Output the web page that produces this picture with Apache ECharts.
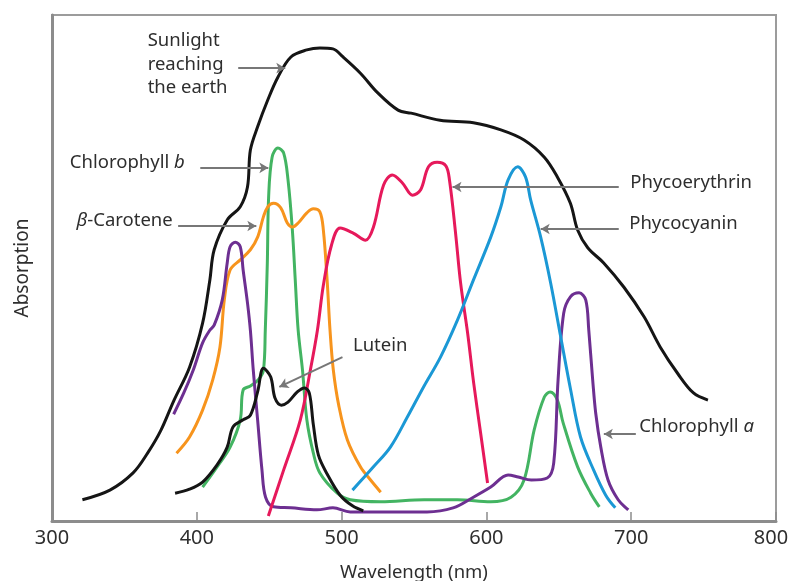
<!DOCTYPE html>
<html>
<head>
<meta charset="utf-8">
<script src="https://cdn.jsdelivr.net/npm/echarts@6/dist/echarts.min.js"></script>
<style>
  html, body { margin: 0; padding: 0; background: #fff; }
  #main { width: 790px; height: 581px; }
</style>
</head>
<body>
<div id="main"></div>
<script>
// wavelength (nm), relative absorption (0-100)
var sunlight = [[321,4.2],[340,6.1],[356,9.5],[366,13.4],[375,17.8],[384,23.7],[395,30.4],[404,39.1],[409,47.6],[412,53.6],[421,59.5],[430,62.1],[435,66.0],[437,73.3],[442,77.9],[449,83.2],[456,87.7],[465,91.7],[476,93.1],[485,93.5],[494,93.3],[501,91.7],[513,88.5],[525,84.6],[539,81.2],[548,80.6],[568,79.2],[591,78.7],[610,77.3],[626,75.3],[640,71.9],[649,68.0],[658,62.8],[663,57.5],[670,54.0],[681,51.0],[695,46.2],[709,40.3],[720,34.4],[732,29.2],[743,25.3],[753,23.9]];
var chlB = [[404,6.7],[414,10.7],[423,14.6],[430,20.0],[432,25.9],[437,26.7],[442.5,27.9],[446,29.8],[447.3,37.7],[448.7,51.0],[449.6,64.0],[452,71.9],[456,73.7],[460,72.7],[463,67.4],[466,57.5],[468,47.6],[470,37.7],[473,29.8],[476,20.0],[480.5,13.4],[485,9.5],[497,5.5],[506,4.2],[527,3.8],[557,4.2],[580,4.2],[603,3.8],[617,4.7],[626,8.1],[633,18.0],[640,24.5],[644,25.5],[649,23.9],[653,19.4],[663,10.7],[672,5.5],[678,2.8]];
var carotene = [[386,13.4],[395,16.6],[404,21.9],[411,27.9],[416,34.4],[419,43.7],[423,49.6],[430,51.6],[437,53.6],[442,56.1],[446,60.1],[449,62.1],[453,62.8],[458,61.9],[462.5,58.9],[466,58.1],[470,58.9],[476,60.9],[480.5,61.7],[485,61.1],[487.4,57.5],[490,47.6],[492,37.7],[494.3,29.8],[498,22.9],[504,16.0],[513,10.7],[520,8.1],[527,5.7]];
var chlA = [[384,21.1],[391,25.3],[397.5,29.8],[404,35.2],[409,37.7],[412,38.7],[417.6,43.7],[421,51.0],[423,54.2],[426.6,55.1],[430,54.2],[432,49.6],[435,43.1],[437,37.7],[439,29.8],[442,20.0],[445,10.1],[447.5,4.7],[453,2.8],[465,2.6],[483,2.2],[494,2.6],[506,1.8],[536,1.8],[559,1.8],[577,2.6],[591,4.7],[603,6.7],[615,9.1],[622,8.7],[631,8.1],[642,8.5],[646.5,11.5],[649.5,27.9],[653.4,41.1],[658,44.3],[664,45.1],[668.6,43.7],[670.7,37.7],[673.4,27.9],[675.5,21.3],[679,14.6],[684,8.1],[691,4.2],[698,2.2]];
var phycoerythrin = [[449.4,1.0],[460,10.1],[471.5,20.0],[478.4,29.8],[483.3,37.7],[487.4,46.6],[493,54.5],[499,57.9],[508,56.9],[516.5,55.5],[522,58.1],[529,66.4],[535,68.4],[542,66.8],[549,64.4],[554.5,65.4],[560,70.0],[566,70.9],[572,70.2],[574.5,67.4],[578.7,56.9],[582.2,47.0],[587,37.2],[591.2,27.3],[596,17.4],[600.8,7.5]];
var phycocyanin = [[507.5,6.1],[522,10.7],[533.7,14.6],[545.5,20.6],[556.6,26.5],[568.3,32.4],[580,39.7],[591,47.6],[603,56.1],[610,62.1],[615,67.4],[621.6,70.0],[627,68.0],[630.6,63.4],[637.5,56.1],[644.4,47.0],[651.3,36.4],[658.2,25.9],[665,16.6],[674,10.1],[682.4,5.1],[689,2.6]];
var lutein = [[385,5.5],[395,6.3],[404,7.7],[414,11.1],[421,14.6],[425,18.6],[432,20.0],[437,20.9],[442,25.5],[446,30.2],[451,28.5],[454,24.3],[458.4,22.9],[463,23.5],[469.4,25.5],[474.3,26.3],[477.7,25.3],[480.5,19.0],[484,13.0],[490,9.3],[499,5.1],[507.5,3.0],[515,2.0]];

var xTicks = { min: 300, max: 800, interval: 100 };

// arrows: [from, to] in data coordinates
var arrows = [
  [[428.6,89.5],[461.1,89.5]],
  [[402.4,69.8],[449.4,69.8]],
  [[387.1,58.3],[441.1,58.3]],
  [[500.6,32.4],[457.0,26.5]],
  [[691.4,66.0],[576.6,66.0]],
  [[691.4,57.7],[637.5,57.7]],
  [[703.2,17.2],[681.1,17.2]]
];
// labels: anchor, side, text
var notes = [
  [[365.7,90.2],'right','Sunlight\nreaching\nthe earth'],
  [[392.0,70.8],'left','{n|Chlorophyll }{i|b}'],
  [[383.7,59.3],'left','{i|β}{n|-Carotene}'],
  [[507.5,34.6],'right','Lutein'],
  [[699.0,66.8],'right','Phycoerythrin'],
  [[698.3,58.7],'right','Phycocyanin'],
  [[705.2,18.6],'right','{n|Chlorophyll }{i|a}']
];

var font = 'Noto Sans';
var textColor = '#2e2e2e';
var noteSize = 18.5;

function curve(name, data, color) {
  return {
    name: name,
    type: 'line',
    data: data,
    smooth: 0.35,
    showSymbol: false,
    lineStyle: { color: color, width: 3 },
    itemStyle: { color: color }
  };
}

var chart = echarts.init(document.getElementById('main'));

var series = [
  curve('Chlorophyll b', chlB, '#43b462'),
  curve('β-Carotene', carotene, '#f7941d'),
  curve('Chlorophyll a', chlA, '#6d2f91'),
  curve('Phycoerythrin', phycoerythrin, '#e6195b'),
  curve('Phycocyanin', phycocyanin, '#1b98d5'),
  curve('Lutein', lutein, '#151515'),
  curve('Sunlight reaching the earth', sunlight, '#151515')
];

series.push({
  name: 'notes',
  type: 'line',
  data: [],
  silent: true,
  markLine: {
    silent: true,
    symbol: ['none', 'arrow'],
    symbolSize: [8, 9],
    label: { show: false },
    lineStyle: { color: '#777', width: 2, type: 'solid' },
    emphasis: { disabled: true },
    data: arrows.map(function (a) {
      return [{ coord: a[0] }, { coord: a[1] }];
    })
  },
  markPoint: {
    silent: true,
    symbol: 'circle',
    symbolSize: 1,
    itemStyle: { color: 'rgba(0,0,0,0)' },
    data: notes.map(function (n) {
      return {
        coord: n[0],
        label: {
          show: true,
          position: n[1],
          distance: 0,
          formatter: n[2],
          color: textColor,
          fontFamily: font,
          fontSize: noteSize,
          lineHeight: 23.5,
          align: n[1] === 'right' ? 'left' : 'right',
          rich: {
            n: { fontFamily: font, fontSize: noteSize, color: textColor },
            i: { fontFamily: font, fontSize: noteSize, color: textColor, fontStyle: 'italic' }
          }
        }
      };
    })
  }
});

chart.setOption({
  animation: false,
  grid: {
    left: 52, right: 14, top: 15, bottom: 60,
    outerBoundsMode: 'none',
    show: true, borderColor: '#9c9c9c', borderWidth: 2
  },
  xAxis: {
    type: 'value',
    min: xTicks.min, max: xTicks.max, interval: xTicks.interval,
    name: 'Wavelength (nm)',
    nameLocation: 'middle',
    nameGap: 42,
    nameTextStyle: { fontFamily: font, fontSize: 18.5, color: textColor },
    axisLine: { lineStyle: { color: '#8c8c8c', width: 3 } },
    axisTick: { inside: true, length: 9, lineStyle: { color: '#8c8c8c', width: 1.5 } },
    axisLabel: {
      fontFamily: font, fontSize: 20, color: textColor, margin: 7,
      formatter: function (v) { return v === xTicks.max ? '{r|' + v + '}' : String(v); },
      rich: { r: { fontFamily: font, fontSize: 20, color: textColor, padding: [0, 10, 0, 0] } }
    },
    splitLine: { show: false }
  },
  yAxis: {
    type: 'value',
    min: 0, max: 100,
    name: 'Absorption',
    nameLocation: 'middle',
    nameGap: 20,
    nameTextStyle: { fontFamily: font, fontSize: 19, color: textColor },
    axisLine: { show: true, lineStyle: { color: '#8c8c8c', width: 3 } },
    axisTick: { show: false },
    axisLabel: { show: false },
    splitLine: { show: false }
  },
  series: series
});
</script>
</body>
</html>
